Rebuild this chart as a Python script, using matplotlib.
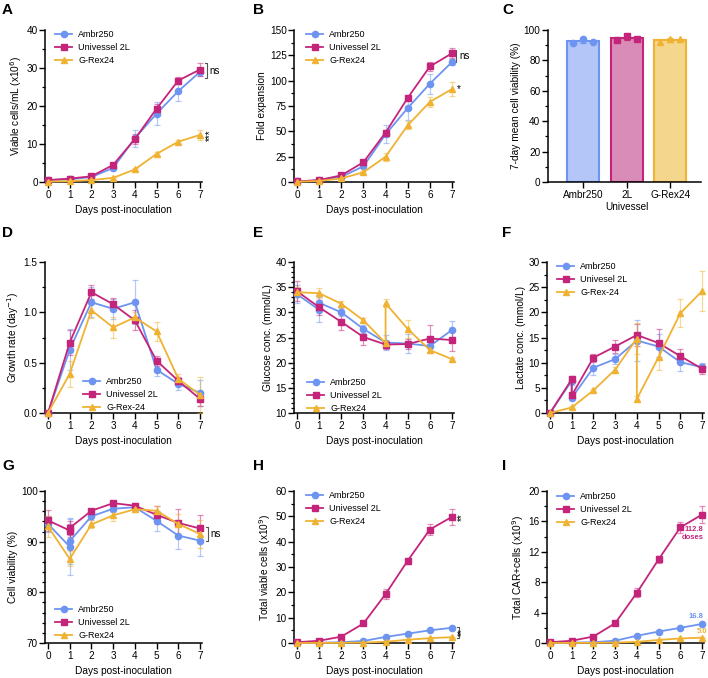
import matplotlib
matplotlib.use("Agg")
import matplotlib.pyplot as plt
from matplotlib.colors import to_rgba
from matplotlib.lines import Line2D
from matplotlib.ticker import MultipleLocator

plt.rcParams['font.family'] = ['Liberation Sans', 'DejaVu Sans']
plt.rcParams['font.size'] = 7

BLUE = '#6E94F2'
MAG = '#C4257A'
YEL = '#F0B232'
BLUE_L = '#B3C6F7'
MAG_L = '#D98CB8'
YEL_L = '#F4D68C'

days = [0, 1, 2, 3, 4, 5, 6, 7]
days_feed1 = [0, 1, 1, 2, 3, 4, 5, 6, 7]
days_feed4 = [0, 1, 2, 3, 4, 4, 5, 6, 7]

# A - viable cells/mL (x10^6)
ambr_A = [0.5, 0.7, 1.3, 3.7, 11.5, 18.0, 23.9, 29.0]
ambr_A_err = [0.2, 0.2, 0.3, 0.5, 2.3, 3.0, 2.5, 1.0]
univ_A = [0.5, 0.9, 1.5, 4.5, 11.3, 19.3, 26.7, 29.6]
univ_A_err = [0.2, 0.2, 0.3, 0.5, 1.3, 1.2, 1.0, 1.8]
grex_A = [0.1, 0.2, 0.5, 1.1, 3.3, 7.4, 10.6, 12.4]
grex_A_err = [0.05, 0.05, 0.1, 0.2, 0.4, 0.4, 0.5, 1.3]

# B - fold expansion
ambr_B = [0.5, 1.5, 5.0, 15.5, 47.0, 73.0, 97.0, 118.4]
ambr_B_err = [0.2, 0.3, 0.8, 2.0, 9.0, 12.0, 10.0, 3.0]
univ_B = [0.5, 2.0, 6.5, 19.5, 48.8, 83.0, 114.0, 127.0]
univ_B_err = [0.2, 0.3, 0.8, 1.5, 3.0, 2.5, 4.0, 5.0]
grex_B = [0.3, 1.0, 3.5, 9.6, 25.0, 56.0, 79.0, 91.7]
grex_B_err = [0.1, 0.2, 0.5, 1.0, 4.0, 4.0, 5.0, 7.0]

# C - 7-day mean viability
groups_C = ['Ambr250', '2L\nUnivessel', 'G-Rex24']
mean_C = [92.6, 94.5, 93.5]
sd_C = [1.2, 1.3, 1.1]
points_C = [[91.5, 93.8, 92.4], [93.5, 95.8, 94.2], [92.2, 94.3, 94.0]]

# D - growth rate
ambr_D = [0, 0.63, 1.10, 1.035, 1.10, 0.43, 0.29, 0.20]
ambr_D_err = [0, 0.2, 0.15, 0.1, 0.22, 0.06, 0.06, 0.13]
univ_D = [0, 0.70, 1.20, 1.08, 0.92, 0.52, 0.32, 0.14]
univ_D_err = [0, 0.12, 0.07, 0.06, 0.1, 0.05, 0.04, 0.07]
grex_D = [0, 0.39, 1.02, 0.85, 0.95, 0.81, 0.34, 0.18]
grex_D_err = [0, 0.13, 0.08, 0.1, 0.05, 0.09, 0.05, 0.18]

# E - glucose
ambr_E = [33.6, 30.5, 31.9, 30.0, 26.7, 24.0, 23.8, 23.3, 26.5]
ambr_E_err = [1.8, 2.5, 1.5, 0.8, 0.8, 1.5, 1.8, 1.2, 1.7]
univ_E = [34.2, 31.0, 28.1, 25.1, 23.6, 23.7, 24.8, 24.5]
univ_E_err = [2.0, 1.5, 1.6, 1.5, 0.8, 1.0, 2.6, 2.2]
grex_E = [34.0, 33.8, 31.7, 28.4, 23.9, 31.8, 26.7, 22.5, 20.7]
grex_E_err = [1.0, 1.0, 0.6, 0.5, 0.3, 0.8, 1.8, 0.6, 0.3]

# F - lactate
ambr_F = [0, 6.4, 3.0, 9.0, 10.7, 14.4, 13.2, 10.1, 9.1]
ambr_F_err = [0.1, 0.8, 0.5, 1.5, 1.0, 4.0, 2.5, 1.7, 0.8]
univ_F = [0, 6.7, 3.5, 11.0, 13.2, 15.5, 13.9, 11.3, 8.8]
univ_F_err = [0.1, 0.6, 0.5, 0.8, 1.3, 2.2, 2.8, 1.4, 1.0]
grex_F = [0, 1.1, 4.5, 8.6, 14.8, 2.8, 11.1, 19.8, 24.2]
grex_F_err = [0, 0.2, 0.3, 0.6, 3.0, 0.5, 2.5, 2.8, 4.0]

# G - cell viability
ambr_G = [93.5, 89.0, 90.1, 95.0, 96.5, 96.8, 94.1, 91.2, 90.2]
ambr_G_err = [1.5, 5.5, 4.5, 0.8, 0.6, 0.5, 2.0, 2.6, 3.0]
univ_G = [94.2, 92.2, 92.7, 96.1, 97.6, 97.1, 95.3, 93.7, 92.6]
univ_G_err = [2.0, 1.2, 1.3, 0.4, 0.3, 0.6, 1.8, 2.8, 2.7]
grex_G = [93.0, 86.6, 93.4, 95.2, 96.4, 96.1, 93.5, 91.5]
grex_G_err = [2.0, 1.5, 0.8, 1.1, 0.5, 1.0, 2.0, 2.8]

# H - total viable cells (x10^9)
ambr_H = [0.05, 0.1, 0.3, 0.8, 2.4, 3.7, 5.0, 6.0]
ambr_H_err = [0, 0, 0.05, 0.1, 0.2, 0.3, 0.3, 0.4]
univ_H = [0.3, 0.9, 2.5, 7.7, 19.3, 32.5, 44.8, 49.8]
univ_H_err = [0.1, 0.2, 0.3, 0.5, 2.0, 1.2, 2.0, 3.2]
grex_H = [0.01, 0.02, 0.05, 0.15, 0.5, 1.3, 1.9, 2.3]
grex_H_err = [0, 0, 0, 0.05, 0.1, 0.1, 0.2, 0.2]

# I - total CAR+ cells (x10^9)
ambr_I = [0.02, 0.05, 0.1, 0.3, 0.95, 1.5, 2.0, 2.5]
ambr_I_err = [0, 0, 0.02, 0.03, 0.08, 0.1, 0.1, 0.12]
univ_I = [0.1, 0.3, 0.85, 2.6, 6.6, 11.0, 15.2, 16.9]
univ_I_err = [0.02, 0.05, 0.1, 0.15, 0.6, 0.5, 0.7, 1.1]
grex_I = [0.0, 0.01, 0.02, 0.05, 0.15, 0.4, 0.6, 0.7]
grex_I_err = [0, 0, 0, 0.01, 0.02, 0.04, 0.05, 0.06]

W, H = 708, 678
fig = plt.figure(figsize=(W / 100, H / 100), dpi=100)

col_x0 = [48, 297, 550]
col_x7 = [200, 452, 702]
row_top = [30, 262, 491]
row_bot = [182, 413, 643]


def line_axes(r, c):
    s = (col_x7[c] - col_x0[c]) / 7
    left = col_x0[c] - 0.12 * s
    right = col_x7[c] + 0.1 * s
    ax = fig.add_axes([left / W, 1 - row_bot[r] / H, (right - left) / W,
                       (row_bot[r] - row_top[r]) / H])
    ax.set_xlim(-0.12, 7.1)
    return ax


def style(ax):
    for sp in ['top', 'right']:
        ax.spines[sp].set_visible(False)
    for sp in ['left', 'bottom']:
        ax.spines[sp].set_linewidth(1.1)
    ax.tick_params(which='major', length=4, width=1.0, labelsize=7.2, pad=1.5)
    ax.tick_params(which='minor', length=2.5, width=0.9)


def series(ax, x, y, err, color, marker):
    ax.errorbar(x, y, yerr=err, color=color, marker=marker, markersize=4.5,
                lw=1.3, ecolor=to_rgba(color, 0.5), elinewidth=0.9,
                capsize=2, capthick=0.9, clip_on=False, zorder=3)


def legend(ax, px, py, labels):
    h = [Line2D([], [], color=c, marker=m, markersize=4.5, lw=1.3)
         for c, m in [(BLUE, 'o'), (MAG, 's'), (YEL, '^')]]
    ax.legend(h, labels, loc='upper left', bbox_to_anchor=(px / W, 1 - py / H),
              bbox_transform=fig.transFigure, frameon=False, borderpad=0,
              borderaxespad=0, handlelength=1.9, handletextpad=0.7,
              labelspacing=0.45, fontsize=6.5)


def line_panel(r, c, data, ylim, major, minor, ylabel, leg,
               labels=('Ambr250', 'Univessel 2L', 'G-Rex24')):
    ax = line_axes(r, c)
    for (x, y, e), col, mk in zip(data, [BLUE, MAG, YEL], ['o', 's', '^']):
        series(ax, x, y, e, col, mk)
    ax.set_ylim(*ylim)
    ax.yaxis.set_major_locator(MultipleLocator(major))
    ax.yaxis.set_minor_locator(MultipleLocator(minor))
    ax.set_xticks(days)
    ax.set_xlabel('Days post-inoculation', fontsize=7.3, labelpad=4)
    ax.set_ylabel(ylabel, fontsize=7.3, labelpad=2)
    style(ax)
    legend(ax, *leg, labels)
    return ax


def bracket(ax, x, y1, y2, text, gap=0.08):
    ax.plot([x - gap, x, x, x - gap], [y1, y1, y2, y2], color='#555555',
            lw=0.8, clip_on=False)
    ax.text(x + 0.12, (y1 + y2) / 2, text, va='center', ha='left', fontsize=7)


# A
axA = line_panel(0, 0, [(days, ambr_A, ambr_A_err), (days, univ_A, univ_A_err),
                        (days, grex_A, grex_A_err)],
                 (0, 40), 10, 5, 'Viable cells/mL (x10$^6$)', (55, 30))
bracket(axA, 7.3, 31.3, 27.3, 'ns')
axA.text(7.45, 12.4, '***', rotation=90, va='center', ha='center', fontsize=7)

# B
axB = line_panel(0, 1, [(days, ambr_B, ambr_B_err), (days, univ_B, univ_B_err),
                        (days, grex_B, grex_B_err)],
                 (0, 150), 25, 12.5, 'Fold expansion', (306, 30))
bracket(axB, 7.2, 130, 118, 'ns')
axB.text(7.32, 91.7, '*', va='center', ha='center', fontsize=7)

# C
axC = fig.add_axes([548 / W, 1 - row_bot[0] / H, (701 - 548) / W,
                    (row_bot[0] - row_top[0]) / H])
xs = range(len(groups_C))
axC.bar(xs, mean_C, width=0.73, color=[BLUE_L, MAG_L, YEL_L],
        edgecolor=[BLUE, MAG, YEL], linewidth=1.5, zorder=2)
for i, (pts, col, mk) in enumerate(zip(points_C, [BLUE, MAG, YEL], ['o', 's', '^'])):
    axC.errorbar(i, mean_C[i], yerr=sd_C[i], color=col, capsize=2.5,
                 elinewidth=0.9, capthick=0.9, zorder=3)
    axC.plot([i - 0.23, i, i + 0.23], pts, linestyle='none', marker=mk,
             markersize=4.5, color=col, zorder=4, clip_on=False)
axC.set_xlim(-0.8, 2.7)
axC.set_ylim(0, 100)
axC.yaxis.set_major_locator(MultipleLocator(20))
axC.yaxis.set_minor_locator(MultipleLocator(10))
axC.set_xticks(list(xs))
axC.set_xticklabels(groups_C, fontsize=7, linespacing=1.3)
axC.set_ylabel('7-day mean cell viability (%)', fontsize=7.3, labelpad=2)
style(axC)

# D
line_panel(1, 0, [(days, ambr_D, ambr_D_err), (days, univ_D, univ_D_err),
                  (days, grex_D, grex_D_err)],
           (0, 1.5), 0.5, 0.25, 'Growth rate (day$^{-1}$)', (83, 377),
           labels=('Ambr250', 'Univessel 2L', 'G-Rex-24'))

# E
line_panel(1, 1, [(days_feed1, ambr_E, ambr_E_err), (days, univ_E, univ_E_err),
                  (days_feed4, grex_E, grex_E_err)],
           (10, 40), 5, 1, 'Glucose conc. (mmol/L)', (307, 378))

# F
line_panel(1, 2, [(days_feed1, ambr_F, ambr_F_err), (days_feed1, univ_F, univ_F_err),
                  (days_feed4, grex_F, grex_F_err)],
           (0, 30), 5, 2.5, 'Lactate conc. (mmol/L)', (557, 262),
           labels=('Ambr250', 'Univesel 2L', 'G-Rex-24'))

# G
axG = line_panel(2, 0, [(days_feed1, ambr_G, ambr_G_err), (days_feed1, univ_G, univ_G_err),
                        (days, grex_G, grex_G_err)],
                 (70, 100), 10, 2, 'Cell viability (%)', (55, 605))
bracket(axG, 7.35, 92.8, 90.1, 'ns')

# H
axH = line_panel(2, 1, [(days, ambr_H, ambr_H_err), (days, univ_H, univ_H_err),
                        (days, grex_H, grex_H_err)],
                 (0, 60), 10, 5, 'Total viable cells (x10$^9$)', (306, 491))
axH.text(7.45, 49.8, '**', rotation=90, va='center', ha='center', fontsize=7)
bracket(axH, 7.3, 6.5, 1.9, '')
axH.text(7.45, 4.2, '**', rotation=90, va='center', ha='center', fontsize=7)

# I
axI = line_panel(2, 2, [(days, ambr_I, ambr_I_err), (days, univ_I, univ_I_err),
                        (days, grex_I, grex_I_err)],
                 (0, 20), 4, 2, 'Total CAR+cells (x10$^9$)', (557, 492))
axI.text(7.08, 14.4, '112.8\ndoses', color=MAG, fontsize=5.5, fontweight='bold',
         ha='right', va='center', linespacing=1.1)
axI.text(7.08, 3.5, '16.8', color=BLUE, fontsize=5.5, fontweight='bold',
         ha='right', va='center')
axI.text(7.0, 1.5, '5.0', color=YEL, fontsize=5.5, fontweight='bold',
         ha='center', va='center')

# panel letters
letters = [('A', 2, 3), ('B', 253, 3), ('C', 502, 3),
           ('D', 2, 226), ('E', 253, 226), ('F', 502, 226),
           ('G', 2, 459), ('H', 253, 459), ('I', 502, 459)]
for txt, px, py in letters:
    fig.text(px / W, 1 - py / H, txt, fontsize=11, fontweight='bold',
             ha='left', va='top')

fig.savefig('out.png', dpi=100)
